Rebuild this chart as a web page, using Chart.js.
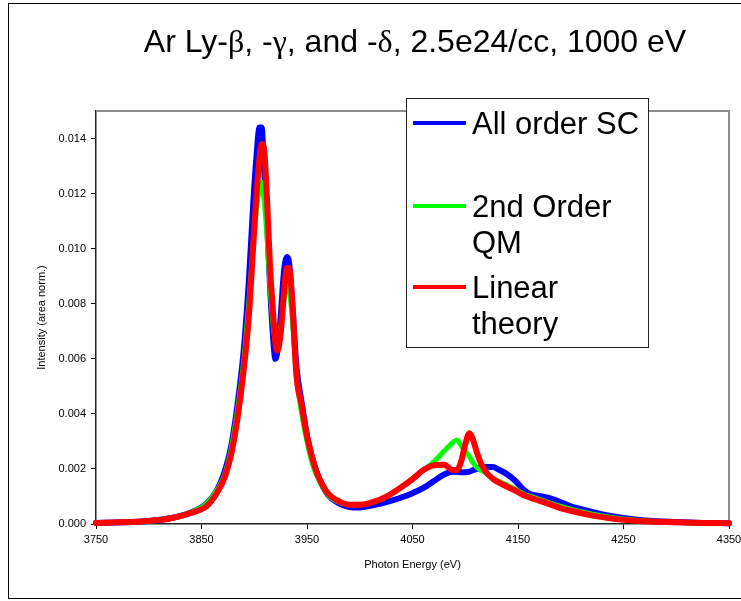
<!DOCTYPE html>
<html>
<head>
<meta charset="utf-8">
<script src="https://cdn.jsdelivr.net/npm/chart.js@4.4.1/dist/chart.umd.min.js"></script>
<style>
  html, body { margin: 0; padding: 0; background: #fff; overflow: hidden; }
  #wrap { width: 741px; height: 601px; overflow: hidden; }
</style>
</head>
<body>
<div id="wrap"><canvas id="chart" width="760" height="601"></canvas></div>
<script>
// photon energy grid (eV)
const energy = [3750, 3775, 3800, 3820, 3840, 3855, 3865, 3872, 3878, 3884,
  3890, 3895, 3899, 3902, 3905, 3907, 3909, 3912, 3915, 3918,
  3920, 3922, 3925, 3928, 3931, 3933, 3936, 3940, 3945, 3950,
  3955, 3960, 3970, 3980, 3990, 4000, 4010, 4020, 4030, 4040,
  4050, 4060, 4070, 4080, 4088, 4092, 4096, 4100, 4104, 4107,
  4111, 4115, 4120, 4126, 4132, 4140, 4148, 4155, 4162, 4170,
  4180, 4190, 4200, 4215, 4230, 4250, 4270, 4300, 4325, 4350];

const allOrderSC = [0.00004, 0.00006, 0.00011, 0.00021, 0.00042, 0.00075, 0.00125, 0.0019, 0.0028, 0.0043,
  0.0063, 0.0089, 0.0116, 0.0133, 0.0144, 0.0144, 0.0131, 0.0111, 0.0086, 0.0067,
  0.0060, 0.0063, 0.0075, 0.0091, 0.0097, 0.0095, 0.0080, 0.0057, 0.0044, 0.0032,
  0.0024, 0.0018, 0.00105, 0.00076, 0.00062, 0.0006, 0.00066, 0.00074, 0.00085, 0.00097,
  0.00112, 0.0013, 0.00155, 0.0018, 0.0019, 0.0019, 0.00188, 0.00188, 0.0019, 0.00195,
  0.002, 0.00205, 0.00207, 0.00207, 0.00197, 0.0018, 0.00155, 0.00125, 0.00108, 0.00102,
  0.00094, 0.0008, 0.00064, 0.00049, 0.00035, 0.00022, 0.00013, 0.00007, 0.00004, 0.00003];

const secondOrderQM = [0.00004, 0.00006, 0.00011, 0.00021, 0.00042, 0.00075, 0.00125, 0.0018, 0.0027, 0.0041,
  0.0059, 0.0081, 0.0101, 0.0114, 0.0122, 0.0124, 0.0119, 0.0105, 0.0086, 0.0072,
  0.0066, 0.0065, 0.0071, 0.0081, 0.0086, 0.0085, 0.0075, 0.0054, 0.0040, 0.0030,
  0.0022, 0.0017, 0.00105, 0.0008, 0.0007, 0.0007, 0.00077, 0.0009, 0.0011, 0.00135,
  0.00165, 0.00195, 0.00225, 0.00265, 0.00295, 0.00305, 0.00285, 0.00265, 0.00245, 0.00225,
  0.00205, 0.00195, 0.00185, 0.00165, 0.00155, 0.0014, 0.00125, 0.0011, 0.001, 0.0009,
  0.00077, 0.00065, 0.00054, 0.0004, 0.00029, 0.00018, 0.00011, 0.00006, 0.00004, 0.00003];

const linearTheory = [0.00004, 0.00006, 0.00011, 0.0002, 0.0004, 0.00065, 0.00115, 0.0017, 0.0025, 0.0038,
  0.0056, 0.0076, 0.0101, 0.0119, 0.0133, 0.0138, 0.0137, 0.0119, 0.0093, 0.0076,
  0.0066, 0.0063, 0.0069, 0.0083, 0.0093, 0.0093, 0.0081, 0.0054, 0.0043, 0.0032,
  0.0024, 0.0018, 0.0011, 0.00083, 0.0007, 0.0007, 0.00077, 0.0009, 0.0011, 0.00135,
  0.00163, 0.00195, 0.00213, 0.00215, 0.00196, 0.00196, 0.00225, 0.0029, 0.0033, 0.0031,
  0.0026, 0.0022, 0.00187, 0.00165, 0.0015, 0.00135, 0.0012, 0.00105, 0.00095, 0.00085,
  0.00072, 0.00058, 0.00048, 0.00035, 0.00025, 0.00015, 0.0001, 0.00006, 0.00004, 0.00003];

const seriesNames = [['All order SC'], ['2nd Order', 'QM'], ['Linear', 'theory']];
const seriesColors = ['#0000ff', '#00ff00', '#ff0000'];
const xTicks = [3750, 3850, 3950, 4050, 4150, 4250, 4350];
const yTicks = [0, 0.002, 0.004, 0.006, 0.008, 0.010, 0.012, 0.014];

Chart.defaults.font.family = '"Liberation Sans", Arial, sans-serif';
Chart.defaults.color = '#000';

const toPoints = (vals) => energy.map((e, i) => ({ x: e, y: vals[i] }));

// outer frame, plot border, title and legend
const decor = {
  id: 'decor',
  beforeDraw(chart) {
    const ctx = chart.ctx;
    ctx.save();
    ctx.fillStyle = '#fff';
    ctx.fillRect(0, 0, chart.width, chart.height);
    ctx.strokeStyle = '#000';
    ctx.lineWidth = 1;
    ctx.strokeRect(8.5, 3.5, chart.width, 595);
    ctx.restore();
  },
  beforeDatasetsDraw(chart) {
    const { ctx, chartArea: a } = chart;
    ctx.save();
    ctx.strokeStyle = '#8c8c8c';
    ctx.lineWidth = 2;
    ctx.beginPath();
    ctx.moveTo(a.left, a.top);
    ctx.lineTo(a.right, a.top);
    ctx.lineTo(a.right, a.bottom);
    ctx.stroke();
    ctx.restore();
  },
  afterDraw(chart) {
    const ctx = chart.ctx;
    ctx.save();
    // title with greek letters in serif
    const parts = [['Ar Ly-', 0], ['\u03b2', 1], [', -', 0], ['\u03b3', 1], [', and -', 0], ['\u03b4', 1], [', 2.5e24/cc, 1000 eV', 0]];
    const fonts = ['32px "Liberation Sans", Arial, sans-serif', '32px "Liberation Serif", "Times New Roman", serif'];
    let total = 0;
    parts.forEach(p => { ctx.font = fonts[p[1]]; total += ctx.measureText(p[0]).width; });
    let x = 415 - total / 2;
    ctx.fillStyle = '#000';
    ctx.textBaseline = 'alphabetic';
    parts.forEach(p => {
      ctx.font = fonts[p[1]];
      ctx.fillText(p[0], x, 52);
      x += ctx.measureText(p[0]).width;
    });

    // legend
    ctx.fillStyle = '#fff';
    ctx.fillRect(406, 98, 242, 249);
    ctx.strokeStyle = '#222';
    ctx.lineWidth = 1;
    ctx.strokeRect(406.5, 98.5, 242, 249);
    const baselines = [134, 217, 298];
    ctx.font = '31px "Liberation Sans", Arial, sans-serif';
    chart.data.datasets.forEach((ds, i) => {
      const b = baselines[i];
      ctx.strokeStyle = ds.borderColor;
      ctx.lineWidth = 4;
      ctx.beginPath();
      ctx.moveTo(413, b - 11);
      ctx.lineTo(466, b - 11);
      ctx.stroke();
      ctx.fillStyle = '#000';
      seriesNames[i].forEach((line, j) => ctx.fillText(line, 472, b + j * 36));
    });
    ctx.restore();
  }
};

new Chart(document.getElementById('chart'), {
  type: 'line',
  data: {
    datasets: [
      { label: seriesNames[0].join(' '), data: toPoints(allOrderSC), borderColor: seriesColors[0], borderWidth: 6, order: 3 },
      { label: seriesNames[1].join(' '), data: toPoints(secondOrderQM), borderColor: seriesColors[1], borderWidth: 5, order: 2 },
      { label: seriesNames[2].join(' '), data: toPoints(linearTheory), borderColor: seriesColors[2], borderWidth: 6, order: 1 }
    ]
  },
  options: {
    responsive: false,
    animation: false,
    events: [],
    layout: { padding: { top: 111, left: 0, right: 31, bottom: 0 } },
    elements: {
      point: { radius: 0 },
      line: { cubicInterpolationMode: 'monotone', fill: false, borderCapStyle: 'round', borderJoinStyle: 'round' }
    },
    datasets: { line: { clip: false } },
    plugins: { legend: { display: false }, title: { display: false }, tooltip: { enabled: false } },
    scales: {
      x: {
        type: 'linear',
        min: 3750,
        max: 4350,
        afterBuildTicks: (s) => { s.ticks = xTicks.map(v => ({ value: v })); },
        afterFit: (s) => { s.height = 77; },
        ticks: { font: { size: 11 }, padding: 4, maxRotation: 0, callback: (v) => String(v) },
        grid: { drawOnChartArea: false, drawTicks: true, tickLength: 5, color: '#000' },
        border: { display: true, color: '#222', width: 1.5 },
        title: { display: true, text: 'Photon Energy (eV)', font: { size: 11 }, padding: { top: 0, bottom: 29 } }
      },
      y: {
        min: 0,
        max: 0.015,
        afterBuildTicks: (s) => { s.ticks = yTicks.map(v => ({ value: v })); },
        afterFit: (s) => { s.width = 96; },
        ticks: { font: { size: 11 }, padding: 5, callback: (v) => v.toFixed(3) },
        grid: { drawOnChartArea: false, drawTicks: true, tickLength: 5, color: '#000' },
        border: { display: true, color: '#222', width: 1.5 },
        title: { display: true, text: 'Intensity (area norm.)', font: { size: 11 }, padding: { top: 35, bottom: 0 } }
      }
    }
  },
  plugins: [decor]
});
</script>
</body>
</html>
